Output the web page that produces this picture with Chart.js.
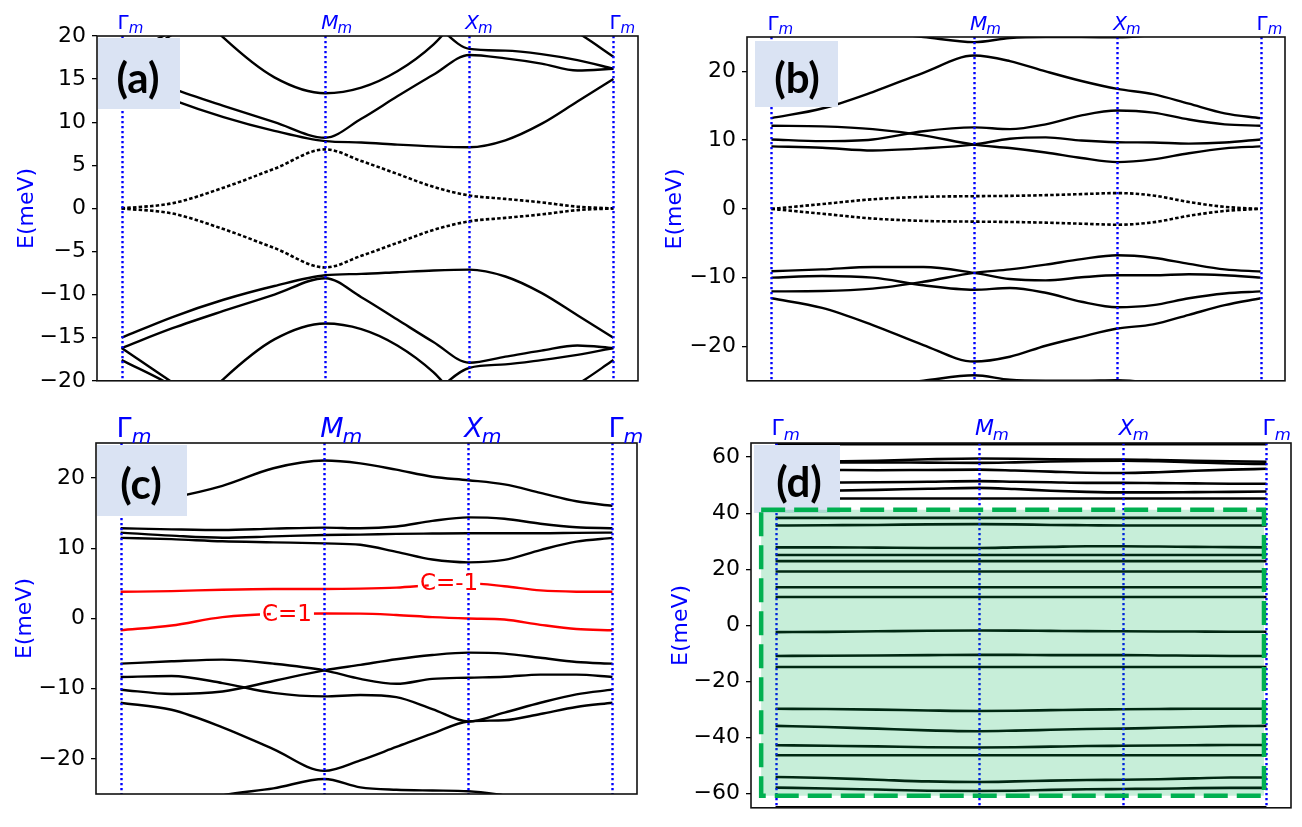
<!DOCTYPE html>
<html><head><meta charset="utf-8">
<script src="https://cdn.jsdelivr.net/npm/chart.js@4.4.1/dist/chart.umd.min.js"></script>
<style>
html,body{margin:0;padding:0;background:#fff;}
#wrap{position:relative;width:1302px;height:827px;overflow:hidden;background:#fff;}
canvas{position:absolute;}
</style></head><body>
<div id="wrap">
<canvas id="ca" width="651" height="400" style="left:0px;top:0px"></canvas>
<canvas id="cb" width="651" height="400" style="left:651px;top:0px"></canvas>
<canvas id="cc" width="651" height="427" style="left:0px;top:400px"></canvas>
<canvas id="cd" width="651" height="427" style="left:651px;top:400px"></canvas>
</div>
<script>
// ---------- k-path (Γ -> M -> X -> Γ) ----------
const kpath = [0, 0.3536, 0.7071, 1.0607, 1.4142, 1.6642, 1.9142, 2.1642, 2.4142, 2.6642, 2.9142, 3.1642, 3.4142];
const symK = [0, 1.4142, 2.4142, 3.4142];
const symLabels = ['\u0393', 'M', 'X', '\u0393'];
const symItalic = [false, true, true, false];
const X_MIN = -0.1707, X_MAX = 3.5849;

// ---------- panel (a) ----------
const aTicks = [-20, -15, -10, -5, 0, 5, 10, 15, 20];
const a_c1 = [15.0, 12.6, 10.6, 9.0, 7.8, 7.65, 7.4, 7.2, 7.1, 7.9, 9.8, 12.4, 15.0];
const a_c2 = [16.2, 13.9, 11.9, 10.0, 8.2, 10.4, 13.0, 15.5, 17.8, 17.4, 16.8, 16.0, 16.2];
const a_c3 = [16.2, 20.2, 24, 26, 27, 26, 24, 21.5, 18.5, 18.3, 17.9, 17.2, 16.2];
const a_c4 = [17.6, 20.6, 24.5, 27, 28, 28, 27, 25.5, 24, 23, 22.5, 20.4, 17.6];
const a_c5 = [33, 26, 19.8, 15.2, 13.35, 14.0, 15.9, 19.0, 23.5, 26, 27, 26, 25];
const a_v1 = [-15.0, -12.6, -10.6, -9.0, -7.75, -7.6, -7.4, -7.2, -7.1, -7.9, -9.8, -12.4, -15.0];
const a_v2 = [-16.2, -13.9, -11.9, -10.0, -8.1, -10.3, -12.9, -15.5, -17.9, -17.2, -16.5, -15.9, -16.2];
const a_v3 = [-16.2, -20.2, -24, -26, -27, -26, -25, -21.5, -18.5, -18.1, -17.6, -17.0, -16.2];
const a_v4 = [-17.6, -20.6, -24.5, -27, -28, -28, -27, -25.5, -24, -23, -22.5, -20.4, -17.6];
const a_v5 = [-33, -26, -19.8, -15.2, -13.35, -14.0, -15.9, -19.0, -23.5, -26, -27, -26, -25];
const a_flat1 = [0, 0.6, 2.4, 4.6, 6.85, 5.5, 4.0, 2.5, 1.5, 1.1, 0.7, 0.2, 0];
const a_flat2 = [0, -0.6, -2.4, -4.6, -6.85, -5.5, -4.0, -2.5, -1.5, -1.1, -0.7, -0.2, 0];

// ---------- panel (b) ----------
const bTicks = [-20, -10, 0, 10, 20];
const b_top = [27, 26.5, 25.8, 25.0, 24.25, 24.85, 24.98, 24.98, 24.95, 25.3, 26, 27, 27.5];
const b_c1 = [13.2, 14.6, 17.0, 19.8, 22.3, 21.5, 20.0, 18.6, 17.45, 16.7, 15.3, 13.9, 13.2];
const b_c2 = [12.1, 12.0, 11.6, 10.7, 9.35, 8.85, 8.2, 7.4, 6.8, 7.2, 8.1, 8.8, 9.1];
const b_c3 = [10.1, 9.85, 10.1, 11.3, 11.85, 11.6, 12.3, 13.6, 14.3, 14.0, 13.0, 12.3, 12.1];
const b_c4 = [9.1, 8.9, 8.5, 8.8, 9.35, 10.2, 10.4, 9.95, 9.7, 9.65, 9.5, 9.65, 10.1];
const b_v1 = [-13.0, -14.4, -16.9, -19.8, -22.2, -21.5, -19.9, -18.6, -17.4, -16.8, -15.4, -14.0, -13.0];
const b_v2 = [-12.0, -11.95, -11.6, -10.6, -9.3, -8.8, -8.1, -7.3, -6.75, -7.1, -8.0, -8.8, -9.1];
const b_v3 = [-10.0, -9.75, -10.0, -11.1, -11.75, -11.5, -12.2, -13.5, -14.3, -14.0, -13.0, -12.3, -12.0];
const b_v4 = [-9.07, -8.8, -8.45, -8.45, -9.3, -10.2, -10.4, -9.95, -9.65, -9.65, -9.5, -9.65, -10.0];
const b_bot = [-27, -26.5, -25.8, -25.0, -24.2, -24.85, -24.98, -24.98, -24.9, -25.3, -26, -27, -27.5];
const b_flat1 = [0, 0.7, 1.4, 1.75, 1.85, 1.9, 2.0, 2.15, 2.3, 1.95, 1.0, 0.3, 0];
const b_flat2 = [0, -0.7, -1.4, -1.75, -1.85, -1.9, -2.0, -2.15, -2.3, -1.95, -1.0, -0.3, 0];

// ---------- panel (c) ----------
const cTicks = [-20, -10, 0, 10, 20];
const c_c1 = [16.05, 17.2, 18.9, 21.4, 22.5, 22.1, 21.2, 20.2, 19.7, 19.1, 17.9, 16.7, 16.05];
const c_c2 = [12.86, 12.7, 12.6, 12.8, 12.95, 12.85, 13.1, 13.9, 14.4, 14.2, 13.5, 13.0, 12.86];
const c_c3 = [12.24, 11.8, 11.5, 11.7, 11.9, 11.95, 12.05, 12.1, 12.14, 12.15, 12.15, 12.2, 12.24];
const c_c4 = [11.48, 11.3, 11.0, 10.85, 10.7, 10.5, 9.5, 8.4, 8.0, 8.35, 9.75, 10.95, 11.48];
const c_red1 = [3.8, 3.9, 4.1, 4.2, 4.2, 4.25, 4.4, 4.75, 5.0, 4.6, 4.0, 3.82, 3.8];
const c_red2 = [-1.67, -1.0, 0.2, 0.65, 0.71, 0.7, 0.5, 0.2, 0.0, -0.15, -0.9, -1.5, -1.67];
const c_v1 = [-6.43, -6.1, -5.86, -6.43, -7.38, -8.6, -9.3, -8.6, -8.43, -8.3, -8.0, -8.0, -8.33];
const c_v2 = [-10.14, -10.75, -10.4, -8.9, -7.38, -6.6, -5.8, -5.2, -4.86, -5.0, -5.6, -6.2, -6.43];
const c_v3 = [-8.33, -8.2, -9.2, -10.6, -11.1, -10.9, -11.2, -12.9, -14.67, -13.4, -12.0, -10.8, -10.14];
const c_v4 = [-12.0, -13.0, -15.5, -18.6, -21.7, -20.2, -18.3, -16.4, -14.67, -14.5, -13.6, -12.6, -12.0];
const c_v5 = [-28, -27, -25.2, -24.2, -22.86, -24.05, -24.4, -24.5, -24.6, -25.2, -26, -27, -27.5];
const cChern = [{text: 'C=-1', k: 2.28, e: 5.0}, {text: 'C=1', k: 1.155, e: 0.7}];

// ---------- panel (d) ----------
const dTicks = [-60, -40, -20, 0, 20, 40, 60];
const dBands = [
  [64.6, 64.6, 64.6, 64.6, 64.6, 64.6, 64.6, 64.6, 64.6, 64.6, 64.6, 64.6, 64.6],
  [58.3, 58.4, 58.7, 59.2, 59.5, 59.4, 59.2, 59.1, 59.1, 58.9, 58.7, 58.5, 58.3],
  [58.0, 58.1, 58.1, 58.0, 57.9, 58.1, 58.4, 58.6, 58.7, 58.5, 58.1, 57.7, 57.5],
  [55.5, 55.4, 55.3, 55.4, 55.5, 55.2, 54.8, 54.4, 54.3, 54.6, 55.1, 55.5, 55.8],
  [50.8, 50.9, 51.0, 51.2, 51.4, 51.2, 51.0, 50.8, 50.8, 50.7, 50.6, 50.5, 50.5],
  [47.8, 48.0, 48.3, 48.7, 49.0, 48.6, 48.0, 47.6, 47.4, 47.4, 47.5, 47.6, 47.7],
  [45.2, 45.2, 45.2, 45.2, 45.2, 45.2, 45.2, 45.2, 45.2, 45.2, 45.2, 45.2, 45.2],
  [38.3, 38.3, 38.3, 38.3, 38.3, 38.3, 38.3, 38.3, 38.3, 38.3, 38.3, 38.3, 38.3],
  [35.6, 35.7, 35.8, 36.0, 36.1, 36.0, 35.8, 35.7, 35.6, 35.6, 35.6, 35.6, 35.6],
  [27.8, 27.8, 27.7, 27.6, 27.6, 27.8, 28.0, 28.2, 28.2, 28.1, 28.0, 27.9, 27.8],
  [25.1, 25.1, 25.1, 25.1, 25.1, 25.1, 25.1, 25.1, 25.1, 25.1, 25.1, 25.1, 25.1],
  [22.9, 22.9, 22.9, 22.9, 22.9, 22.9, 22.9, 22.9, 22.9, 22.9, 22.9, 22.9, 22.9],
  [19.2, 19.2, 19.2, 19.2, 19.2, 19.2, 19.2, 19.2, 19.2, 19.2, 19.2, 19.2, 19.2],
  [13.6, 13.6, 13.6, 13.6, 13.6, 13.6, 13.6, 13.6, 13.6, 13.6, 13.6, 13.6, 13.6],
  [10.1, 10.1, 10.1, 10.1, 10.1, 10.1, 10.1, 10.1, 10.1, 10.1, 10.1, 10.1, 10.1],
  [-2.4, -2.3, -2.1, -1.9, -1.8, -1.85, -1.95, -2.05, -2.1, -2.15, -2.2, -2.25, -2.25],
  [-10.9, -10.8, -10.7, -10.6, -10.5, -10.5, -10.6, -10.6, -10.6, -10.7, -10.8, -10.9, -10.9],
  [-14.8, -14.8, -14.8, -14.8, -14.8, -14.8, -14.8, -14.8, -14.8, -14.8, -14.8, -14.8, -14.8],
  [-29.7, -29.8, -30.0, -30.3, -30.5, -30.4, -30.2, -30.0, -29.9, -29.8, -29.7, -29.7, -29.7],
  [-35.8, -36.2, -36.8, -37.4, -37.7, -37.5, -37.2, -36.9, -36.8, -36.5, -36.2, -35.9, -35.8],
  [-42.7, -42.9, -43.1, -43.4, -43.5, -43.4, -43.2, -43.0, -42.9, -42.8, -42.7, -42.6, -42.6],
  [-46.3, -46.3, -46.3, -46.3, -46.3, -46.3, -46.3, -46.3, -46.3, -46.3, -46.3, -46.3, -46.3],
  [-54.0, -54.4, -55.0, -55.6, -55.8, -55.6, -55.3, -55.1, -55.0, -54.8, -54.5, -54.2, -54.2],
  [-57.8, -58.1, -58.5, -58.9, -59.0, -58.9, -58.6, -58.4, -58.3, -58.2, -58.0, -57.9, -57.9],
  [-64.8, -64.8, -64.8, -64.8, -64.8, -64.8, -64.8, -64.8, -64.8, -64.8, -64.8, -64.8, -64.8]
];
const dGreen = {k0: -0.10, k1: 3.397, e0: 41.2, e1: -60.7};

// ---------- helpers ----------
Chart.defaults.font.family = '"DejaVu Sans", sans-serif';

function band(vals, opt) {
  return Object.assign({
    data: vals.map((v, i) => ({x: kpath[i], y: v})),
    borderColor: '#000', borderWidth: 2.4, pointRadius: 0, fill: false,
    cubicInterpolationMode: 'monotone'
  }, opt || {});
}
const DOT = {borderDash: [3.5, 2.2], borderWidth: 2.6};

function fmt(v) { return v < 0 ? '\u2212' + Math.abs(v) : String(v); }

const decor = {
  id: 'decor',
  afterDatasetsDraw(chart, args, o) {
    const {ctx, chartArea: ca, scales: {x, y}} = chart;
    ctx.save();
    ctx.beginPath(); ctx.rect(ca.left, ca.top, ca.right - ca.left, ca.bottom - ca.top); ctx.clip();
    ctx.strokeStyle = '#0000ff'; ctx.lineWidth = 2.4; ctx.setLineDash([2.2, 2.8]);
    symK.forEach(k => {
      const px = Math.round(x.getPixelForValue(k)) + 0.5;
      ctx.beginPath(); ctx.moveTo(px, ca.top); ctx.lineTo(px, ca.bottom); ctx.stroke();
    });
    ctx.restore();
    if (o.chern) {
      ctx.save();
      ctx.font = '23px "DejaVu Sans"';
      ctx.textAlign = 'center'; ctx.textBaseline = 'middle';
      o.chern.forEach(c => {
        const px = x.getPixelForValue(c.k), py = y.getPixelForValue(c.e);
        const w = ctx.measureText(c.text).width;
        const cw = ctx.measureText('C').width;
        ctx.fillStyle = '#fff';
        ctx.fillRect(px - w / 2 + cw * 0.55, py - 9, w - cw * 0.55 + 2, 18);
        ctx.fillRect(px - w / 2 - 2, py - 9, cw * 0.3 + 2, 18);
        ctx.fillStyle = '#ff0000';
        ctx.fillText(c.text, px, py + 1);
      });
      ctx.restore();
    }
  },
  afterDraw(chart, args, o) {
    const {ctx, chartArea: ca, scales: {x, y}} = chart;
    ctx.save();
    // panel tag box
    const b = o.box;
    ctx.fillStyle = '#dae3f3';
    ctx.fillRect(b.x0, b.y0, b.x1 - b.x0, b.y1 - b.y0);
    ctx.fillStyle = '#000';
    ctx.font = 'bold 42px Lato, "Open Sans", sans-serif';
    ctx.textAlign = 'center'; ctx.textBaseline = 'middle';
    ctx.fillText(b.text, b.tx, b.ty);
    // green highlighted region
    if (o.green) {
      const g = o.green;
      const gx0 = x.getPixelForValue(g.k0), gx1 = x.getPixelForValue(g.k1);
      const gy0 = y.getPixelForValue(g.e0), gy1 = y.getPixelForValue(g.e1);
      ctx.fillStyle = 'rgba(0,176,80,0.22)';
      ctx.fillRect(gx0, gy0, gx1 - gx0, gy1 - gy0);
      ctx.strokeStyle = '#00b050'; ctx.lineWidth = 4.5; ctx.setLineDash([24, 9]);
      ctx.strokeRect(gx0, gy0, gx1 - gx0, gy1 - gy0);
      ctx.setLineDash([]);
    }
    // frame
    ctx.strokeStyle = '#111'; ctx.lineWidth = 1.6; ctx.setLineDash([]);
    ctx.strokeRect(ca.left, ca.top, ca.right - ca.left, ca.bottom - ca.top);
    // top symmetry-point labels
    ctx.fillStyle = '#0000ff'; ctx.textAlign = 'left'; ctx.textBaseline = 'alphabetic';
    const s = o.symSize;
    symK.forEach((k, i) => {
      const px = x.getPixelForValue(k) - 4;
      ctx.font = (symItalic[i] ? 'italic ' : '') + s + 'px "DejaVu Sans"';
      ctx.fillText(symLabels[i], px, o.symBase);
      const w = ctx.measureText(symLabels[i]).width;
      ctx.font = 'italic ' + (s * 0.75).toFixed(1) + 'px "DejaVu Sans"';
      ctx.fillText('m', px + w + (symItalic[i] ? -1 : 0), o.symBase + s * 0.22);
    });
    ctx.restore();
  }
};

function makeChart(id, c) {
  return new Chart(document.getElementById(id), {
    type: 'line',
    data: {datasets: c.datasets},
    options: {
      responsive: false, animation: false, devicePixelRatio: 1,
      layout: {padding: c.pad},
      plugins: {legend: {display: false}, tooltip: {enabled: false}, decor: c.decor},
      scales: {
        x: {type: 'linear', min: X_MIN, max: X_MAX, display: false},
        y: {
          type: 'linear', min: c.ymin, max: c.ymax,
          afterFit: s => { s.width = c.yw; },
          afterBuildTicks: s => { s.ticks = c.ticks.map(v => ({value: v})); },
          ticks: {color: '#000', font: {size: 22}, padding: 6, callback: v => fmt(v)},
          grid: {drawOnChartArea: false, drawTicks: true, tickLength: 5, color: '#000', lineWidth: 1.3},
          border: {display: false},
          title: {display: true, text: 'E(meV)', color: '#0000ff', font: {size: 22}, padding: {top: c.tpad, bottom: 0}}
        }
      }
    },
    plugins: [decor]
  });
}

makeChart('ca', {
  datasets: [a_c1, a_c2, a_c3, a_c4, a_c5, a_v1, a_v2, a_v3, a_v4, a_v5].map(v => band(v))
    .concat([band(a_flat1, DOT), band(a_flat2, DOT)]),
  pad: {left: 0, top: 36, right: 13, bottom: 13}, yw: 97, tpad: 13.8,
  ymin: -20, ymax: 20, ticks: aTicks,
  decor: {symSize: 20, symBase: 29, box: {x0: 98, y0: 38, x1: 180, y1: 109, text: '(a)', tx: 138, ty: 79}}
});

makeChart('cb', {
  datasets: [b_top, b_c1, b_c2, b_c3, b_c4, b_v1, b_v2, b_v3, b_v4, b_bot].map(v => band(v))
    .concat([band(b_flat1, DOT), band(b_flat2, DOT)]),
  pad: {left: 0, top: 37, right: 17, bottom: 13}, yw: 96, tpad: 10.8,
  ymin: -25, ymax: 25, ticks: bTicks,
  decor: {symSize: 20, symBase: 30, box: {x0: 104, y0: 41, x1: 187, y1: 107, text: '(b)', tx: 146, ty: 79}}
});

makeChart('cc', {
  datasets: [c_c1, c_c2, c_c3, c_c4, c_v1, c_v2, c_v3, c_v4, c_v5].map(v => band(v))
    .concat([band(c_red1, {borderColor: '#ff0000'}), band(c_red2, {borderColor: '#ff0000'})]),
  pad: {left: 0, top: 43, right: 14, bottom: 33}, yw: 96, tpad: 11.8,
  ymin: -25, ymax: 25, ticks: cTicks,
  decor: {symSize: 27, symBase: 37, chern: cChern, box: {x0: 97, y0: 45, x1: 187, y1: 116, text: '(c)', tx: 141, ty: 85}}
});

makeChart('cd', {
  datasets: dBands.map(v => band(v, {borderWidth: 2.6})),
  pad: {left: 0, top: 43, right: 11, bottom: 18}, yw: 100, tpad: 16.8,
  ymin: -65, ymax: 65, ticks: dTicks,
  decor: {symSize: 22, symBase: 35, green: dGreen, box: {x0: 103, y0: 45, x1: 189, y1: 113, text: '(d)', tx: 148, ty: 83}}
});
</script>
</body></html>
